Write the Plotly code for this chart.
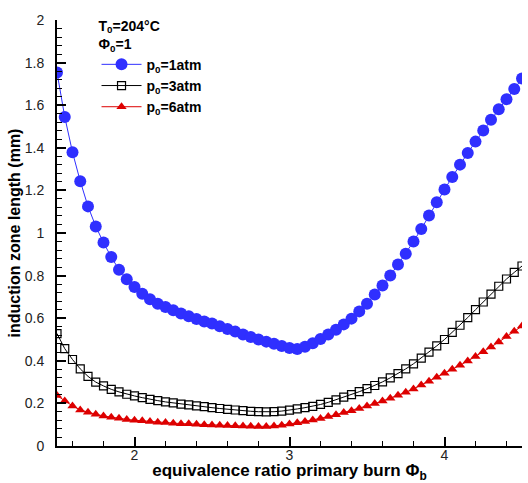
import plotly.graph_objects as go

phi_b = [1.50, 1.55, 1.60, 1.65, 1.70, 1.75, 1.80, 1.85, 1.90, 1.95,
         2.00, 2.05, 2.10, 2.15, 2.20, 2.25, 2.30, 2.35, 2.40, 2.45,
         2.50, 2.55, 2.60, 2.65, 2.70, 2.75, 2.80, 2.85, 2.90, 2.95,
         3.00, 3.05, 3.10, 3.15, 3.20, 3.25, 3.30, 3.35, 3.40, 3.45,
         3.50, 3.55, 3.60, 3.65, 3.70, 3.75, 3.80, 3.85, 3.90, 3.95,
         4.00, 4.05, 4.10, 4.15, 4.20, 4.25, 4.30, 4.35, 4.40, 4.45, 4.50]

p1atm = [1.754, 1.545, 1.379, 1.243, 1.125, 1.031, 0.955, 0.887, 0.828, 0.783,
         0.747, 0.715, 0.689, 0.668, 0.653, 0.637, 0.622, 0.609, 0.596, 0.585,
         0.575, 0.562, 0.549, 0.537, 0.524, 0.512, 0.500, 0.490, 0.480, 0.469,
         0.460, 0.455, 0.466, 0.482, 0.502, 0.524, 0.546, 0.571, 0.598, 0.632,
         0.668, 0.711, 0.754, 0.801, 0.852, 0.903, 0.960, 1.019, 1.082, 1.144,
         1.204, 1.263, 1.321, 1.376, 1.429, 1.481, 1.532, 1.581, 1.628, 1.676, 1.725]

p3atm = [0.528, 0.457, 0.406, 0.362, 0.327, 0.300, 0.282, 0.266, 0.254, 0.243,
         0.235, 0.227, 0.219, 0.213, 0.207, 0.202, 0.197, 0.193, 0.188, 0.185,
         0.180, 0.176, 0.172, 0.169, 0.166, 0.163, 0.161, 0.160, 0.161, 0.164,
         0.168, 0.174, 0.180, 0.186, 0.195, 0.205, 0.217, 0.229, 0.241, 0.255,
         0.269, 0.284, 0.301, 0.320, 0.340, 0.362, 0.386, 0.413, 0.441, 0.470,
         0.500, 0.533, 0.567, 0.603, 0.640, 0.676, 0.713, 0.750, 0.784, 0.815, 0.845]

p6atm = [0.237, 0.211, 0.188, 0.169, 0.158, 0.149, 0.141, 0.135, 0.130, 0.125,
         0.121, 0.118, 0.115, 0.112, 0.110, 0.107, 0.105, 0.104, 0.102, 0.100,
         0.099, 0.097, 0.096, 0.095, 0.094, 0.093, 0.092, 0.092, 0.094, 0.098,
         0.103, 0.109, 0.115, 0.122, 0.129, 0.138, 0.147, 0.157, 0.166, 0.176,
         0.188, 0.199, 0.211, 0.224, 0.238, 0.252, 0.268, 0.286, 0.304, 0.323,
         0.341, 0.360, 0.379, 0.399, 0.420, 0.443, 0.465, 0.488, 0.514, 0.539, 0.563]

series_names = ["p<sub>0</sub>=1atm", "p<sub>0</sub>=3atm", "p<sub>0</sub>=6atm"]
legend_title = "T<sub>0</sub>=204°C<br>Φ<sub>0</sub>=1"
x_title = "equivalence ratio primary burn Φ<sub>b</sub>"
y_title = "induction zone length (mm)"

FONT = "Arial, Liberation Sans, sans-serif"

fig = go.Figure()
fig.add_trace(go.Scatter(
    x=phi_b, y=p1atm, mode="lines+markers", name=series_names[0],
    line=dict(color="#2f2fff", width=1),
    marker=dict(symbol="circle", size=12, color="#2f2fff"),
))
fig.add_trace(go.Scatter(
    x=phi_b, y=p3atm, mode="lines+markers", name=series_names[1],
    line=dict(color="black", width=1),
    marker=dict(symbol="square-open", size=8, color="black", line=dict(width=1.2)),
))
fig.add_trace(go.Scatter(
    x=phi_b, y=p6atm, mode="lines+markers", name=series_names[2],
    line=dict(color="#dd0000", width=1),
    marker=dict(symbol="triangle-up", size=9, color="#dd0000"),
))

axis_common = dict(
    showline=True, linecolor="black", linewidth=2,
    ticks="inside", tickcolor="black", tickwidth=1.5, ticklen=9,
    showgrid=False, zeroline=False, mirror=False,
)

fig.update_xaxes(
    range=[1.5, 4.5], tickvals=[2, 3, 4], ticktext=["2", "3", "4"],
    minor=dict(dtick=0.2, tick0=0, ticks="inside", ticklen=5, tickcolor="black", tickwidth=1.2),
    tickfont=dict(family=FONT, size=14, color="#222"),
    ticklabelstandoff=-5, automargin="left",
    title=dict(text=x_title, font=dict(family=FONT, size=17, color="black", weight="bold"), standoff=4),
    **axis_common,
)
fig.update_yaxes(
    range=[0, 2], tickvals=[0, 0.2, 0.4, 0.6, 0.8, 1, 1.2, 1.4, 1.6, 1.8, 2],
    ticktext=["0", "0.2", "0.4", "0.6", "0.8", "1", "1.2", "1.4", "1.6", "1.8", "2"],
    minor=dict(dtick=0.04, tick0=0, ticks="inside", ticklen=5, tickcolor="black", tickwidth=1.2),
    tickfont=dict(family=FONT, size=14, color="#222"),
    ticklabelstandoff=8, automargin="top",
    title=dict(text=y_title, font=dict(family=FONT, size=16, color="black", weight="bold"), standoff=0),
    **axis_common,
)

fig.update_layout(
    width=528, height=483,
    margin=dict(l=57, r=6, t=20, b=37),
    paper_bgcolor="white", plot_bgcolor="white",
    showlegend=True,
    legend=dict(
        x=0.085, y=1.018, xanchor="left", yanchor="top",
        bgcolor="rgba(255,255,255,0)",
        font=dict(family=FONT, size=14, color="black", weight="bold"),
        title=dict(text=legend_title, font=dict(family=FONT, size=14, color="black", weight="bold")),
        tracegroupgap=0, itemwidth=40,
    ),
    font=dict(family=FONT),
)

fig.write_html("out.html")
